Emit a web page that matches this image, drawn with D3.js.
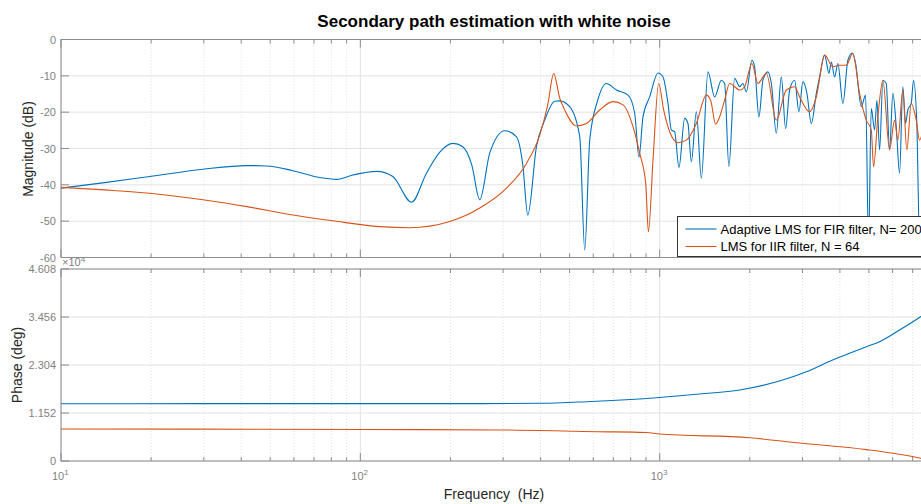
<!DOCTYPE html>
<html>
<head>
<meta charset="utf-8">
<script src="https://cdn.jsdelivr.net/npm/d3@7"></script>
<style>
body { margin:0; background:#fff; }
svg { display:block; font-family:"Liberation Sans", Arial, Helvetica, sans-serif; }
.ticklabel { fill:#7f7f7f; font-size:11px; }
</style>
</head>
<body>
<svg id="chart" width="921" height="504"></svg>
<script>
"use strict";

// ---- magnitude, adaptive LMS FIR (Hz / dB)
var firFreq = [10, 14, 19.8, 29.8, 41.8, 48.7, 59.5, 73.2, 83.5, 94.4,
	113.5, 128.4, 148.3, 166.3, 184.3, 203.7, 219.9, 235.6, 250.6, 270.7,
	303.8, 332.4, 348.9, 362.6, 387.6, 413, 446, 463.5, 500.6, 540.8,
	561.9, 583.9, 621, 663.7, 717.2, 784.2, 825.3, 852.9, 879.6, 925.7,
	987, 1026, 1066, 1094, 1122, 1160, 1212, 1243, 1276, 1326,
	1378, 1450, 1526, 1607, 1648, 1703, 1780, 1850, 1897, 1948,
	2033, 2076, 2146, 2213, 2300, 2361, 2453, 2549, 2635, 2717,
	2824, 2919, 3010, 3104, 3211, 3337, 3423, 3557, 3677, 3745,
	3841, 3939, 4093, 4254, 4400, 4513, 4716, 4874, 4988, 5092,
	5224, 5318, 5429, 5568, 5715, 5861, 6012, 6171, 6329, 6492,
	6628, 6745, 6924, 7048, 7229, 7381, 7670];
var firMag = [-40.9, -39.4, -37.7, -35.7, -34.7, -34.8, -36.1, -38.0, -38.5, -37.3,
	-36.3, -37.7, -44.8, -36.8, -31.0, -28.6, -29.5, -34.5, -44.1, -31.2,
	-25.1, -26.8, -34.5, -48.3, -29.5, -22.2, -17.0, -16.9, -18.5, -26.8,
	-57.9, -27.7, -16.7, -12.1, -13.9, -15.3, -20.3, -32.4, -21.3, -15.8,
	-9.2, -10.3, -17.6, -24.9, -25.4, -35.2, -21.7, -23.1, -33.6, -19.9,
	-38.2, -8.9, -15.8, -11.2, -12.1, -35.0, -10.7, -13.0, -12.1, -14.4,
	-5.7, -7.5, -21.3, -11.2, -8.9, -12.1, -25.8, -10.3, -24.5, -13.9,
	-11.2, -19.9, -11.6, -14.8, -23.1, -14.8, -10.3, -4.3, -9.3, -6.2,
	-10.3, -6.6, -17.6, -5.7, -3.7, -6.6, -18.5, -15.3, -56.5, -19.0,
	-24.9, -16.7, -30.4, -11.2, -12.1, -30.4, -14.8, -24.0, -36.8, -13.0,
	-23.1, -19.4, -17.6, -11.2, -23.1, -55.1, -22.2];

// ---- magnitude, LMS IIR (Hz / dB)
var iirFreq = [10, 14, 19.8, 29.8, 41.8, 59.5, 80.9, 116.2, 146.3, 199.1,
	250.6, 307.8, 358.9, 397.5, 422.7, 442.6, 463.5, 481.7, 527.2, 569.3,
	630.6, 698.6, 754.3, 814.6, 857.6, 898.2, 917, 950, 992.4, 1031,
	1080, 1151, 1228, 1326, 1432, 1480, 1538, 1586, 1648, 1713,
	1850, 1922, 2033, 2129, 2272, 2453, 2649, 2824, 2934, 3170,
	3337, 3557, 3790, 3990, 4202, 4420, 4654, 4900, 5092, 5183,
	5357, 5568, 5861, 6090, 6247, 6492, 6693, 6924, 7196, 7381,
	7670];
var iirMag = [-40.7, -41.4, -42.3, -44.1, -46.0, -48.3, -49.9, -51.5, -51.8, -50.1,
	-46.4, -40.9, -34.1, -26.3, -18.0, -9.4, -16.1, -19.4, -23.8, -23.1,
	-19.4, -17.1, -18.0, -24.0, -31.3, -39.6, -52.9, -33.2, -12.1, -19.4,
	-25.4, -28.4, -27.7, -23.1, -15.3, -16.7, -23.3, -21.3, -16.7, -12.1,
	-13.9, -13.0, -6.6, -12.1, -9.3, -22.2, -13.9, -13.0, -15.8, -19.9,
	-15.8, -4.3, -7.5, -7.1, -7.1, -3.8, -14.8, -22.2, -24.9, -35.0,
	-21.3, -11.2, -30.4, -22.2, -27.7, -13.9, -30.4, -17.6, -22.2, -27.7,
	-22.2];

// ---- phase (Hz / deg)
var firPhaseFreq = [10, 30, 100, 200, 400, 569, 1000, 1360, 1850, 2575, 3090, 3781, 4900, 5429, 6329, 7439, 8000];
var firPhase = [13750, 13760, 13780, 13760, 13850, 14230, 15240, 16080, 17040, 19440, 21430, 24240, 27430, 28630, 31440, 34630, 36200];
var iirPhaseFreq = [10, 100, 300, 620, 898, 1000, 2000, 2934, 4900, 7439, 8000];
var iirPhase = [7680, 7560, 7440, 7030, 6840, 6480, 5570, 4320, 2740, 650, 120];

// ---- ticks
var majorFreqTicks = [10, 100, 1000];
var minorFreqTicks = [20, 30, 40, 50, 60, 70, 80, 90, 200, 300, 400, 500, 600, 700, 800, 900,
	2000, 3000, 4000, 5000, 6000, 7000, 8000];
var freqTickExp = ['1', '2', '3'];
var magTicks = [0, -10, -20, -30, -40, -50, -60];
var phaseTicks = [0, 11520, 23040, 34560, 46080];
var phaseTickLabels = ['0', '1.152', '2.304', '3.456', '4.608'];
var legendLabels = ['Adaptive LMS for FIR filter, N= 200', 'LMS for IIR filter, N = 64'];
var colors = ['#0072bd', '#d95319'];

var svg = d3.select('#chart');
var left = 61, right = 930;

var x = d3.scaleLog().domain([10, 8000]).range([left, right]);
var yMag = d3.scaleLinear().domain([-60, 0]).range([257.5, 39.5]);
var yPhase = d3.scaleLinear().domain([0, 46080]).range([461, 269]);

//*-*-*-*-*-*-*-*-*-*-*-*-*-*-*-*-*-*
// one axes box: grid, ticks, labels
//*-*-*-*-*-*-*-*-*-*-*-*-*-*-*-*-*-*
function draw_axes(id, y, yTicks, yLabels)
{
	var top = y.range()[1], bottom = y.range()[0];
	var g = svg.append('g').attr('class', id);

	g.append('rect').attr('x', left).attr('y', top)
		.attr('width', right - left).attr('height', bottom - top).attr('fill', '#fff');

	// minor grid (dotted)
	g.selectAll('.minorgrid').data(minorFreqTicks).enter().append('line')
		.attr('x1', function(d){ return x(d); }).attr('x2', function(d){ return x(d); })
		.attr('y1', top).attr('y2', bottom)
		.attr('stroke', '#d8d8d8').attr('stroke-width', 0.8).attr('stroke-dasharray', '1,2');
	// major grid
	g.selectAll('.vgrid').data(majorFreqTicks).enter().append('line')
		.attr('x1', function(d){ return x(d); }).attr('x2', function(d){ return x(d); })
		.attr('y1', top).attr('y2', bottom)
		.attr('stroke', '#e2e2e2').attr('stroke-width', 1);
	g.selectAll('.hgrid').data(yTicks).enter().append('line')
		.attr('x1', left).attr('x2', right)
		.attr('y1', function(d){ return y(d); }).attr('y2', function(d){ return y(d); })
		.attr('stroke', '#e2e2e2').attr('stroke-width', 1);

	var clipId = 'clip-' + id;
	g.append('clipPath').attr('id', clipId).append('rect')
		.attr('x', left).attr('y', top).attr('width', right - left).attr('height', bottom - top);
	var plot = g.append('g').attr('clip-path', 'url(#' + clipId + ')');

	// box and ticks
	var axisCol = '#8c8c8c';
	g.append('rect').attr('x', left).attr('y', top)
		.attr('width', right - left).attr('height', bottom - top)
		.attr('fill', 'none').attr('stroke', axisCol).attr('stroke-width', 1);
	var allTicks = majorFreqTicks.concat(minorFreqTicks);
	g.selectAll('.xtickb').data(allTicks).enter().append('line')
		.attr('x1', function(d){ return x(d); }).attr('x2', function(d){ return x(d); })
		.attr('y1', bottom).attr('y2', function(d){ return bottom - (majorFreqTicks.indexOf(d) >= 0 ? 8 : 4); })
		.attr('stroke', axisCol);
	g.selectAll('.xtickt').data(allTicks).enter().append('line')
		.attr('x1', function(d){ return x(d); }).attr('x2', function(d){ return x(d); })
		.attr('y1', top).attr('y2', function(d){ return top + (majorFreqTicks.indexOf(d) >= 0 ? 8 : 4); })
		.attr('stroke', axisCol);
	g.selectAll('.ytick').data(yTicks).enter().append('line')
		.attr('x1', left).attr('x2', left + 8)
		.attr('y1', function(d){ return y(d); }).attr('y2', function(d){ return y(d); })
		.attr('stroke', axisCol);
	g.selectAll('.ylabel').data(yTicks).enter().append('text')
		.attr('class', 'ticklabel')
		.attr('x', left - 5)
		.attr('y', function(d){ return y(d) + 4; })
		.attr('text-anchor', 'end')
		.text(function(d, i){ return yLabels[i]; });
	return plot;
}

var magPlot = draw_axes('mag', yMag, magTicks, magTicks.map(String));
var phasePlot = draw_axes('phase', yPhase, phaseTicks, phaseTickLabels);

//*-*-*-*-*-*-*-*-*-*-*-*
// curves
//*-*-*-*-*-*-*-*-*-*-*-*
function pairs(fs, vs){ return fs.map(function(f, i){ return [f, vs[i]]; }); }

var magLine = d3.line().x(function(d){ return x(d[0]); }).y(function(d){ return yMag(d[1]); })
	.curve(d3.curveMonotoneX);
var phaseLine = d3.line().x(function(d){ return x(d[0]); }).y(function(d){ return yPhase(d[1]); })
	.curve(d3.curveMonotoneX);

[pairs(firFreq, firMag), pairs(iirFreq, iirMag)].forEach(function(d, i)
{
	magPlot.append('path').datum(d).attr('d', magLine)
		.attr('fill', 'none').attr('stroke', colors[i]).attr('stroke-width', 1.1);
});
[pairs(firPhaseFreq, firPhase), pairs(iirPhaseFreq, iirPhase)].forEach(function(d, i)
{
	phasePlot.append('path').datum(d).attr('d', phaseLine)
		.attr('fill', 'none').attr('stroke', colors[i]).attr('stroke-width', 1.1);
});

//*-*-*-*-*-*-*-*-*-*-*-*
// x tick labels 10^n
//*-*-*-*-*-*-*-*-*-*-*-*
var xl = svg.selectAll('.xlabel').data(majorFreqTicks).enter().append('text')
	.attr('class', 'ticklabel')
	.attr('x', function(d){ return x(d) - 9; })
	.attr('y', 480);
xl.append('tspan').text('10');
xl.append('tspan').attr('dy', -5).style('font-size', '8px')
	.text(function(d, i){ return freqTickExp[i]; });

// exponent marker of the phase axis
var ex = svg.append('text').attr('class', 'ticklabel').attr('x', 62).attr('y', 266).style('font-size', '11px');
ex.append('tspan').text('\u00d710');
ex.append('tspan').attr('dy', -4).style('font-size', '8px').text('4');

//*-*-*-*-*-*-*-*-*-*-*-*
// titles
//*-*-*-*-*-*-*-*-*-*-*-*
svg.append('text').attr('x', 494).attr('y', 27).attr('text-anchor', 'middle')
	.style('font-size', '17px').style('font-weight', 'bold').attr('fill', '#000')
	.text('Secondary path estimation with white noise');
svg.append('text').attr('transform', 'translate(33,149) rotate(-90)').attr('text-anchor', 'middle')
	.style('font-size', '14px').attr('fill', '#262626').text('Magnitude (dB)');
svg.append('text').attr('transform', 'translate(22,365) rotate(-90)').attr('text-anchor', 'middle')
	.style('font-size', '14px').attr('fill', '#262626').text('Phase (deg)');
svg.append('text').attr('x', 494).attr('y', 499).attr('text-anchor', 'middle')
	.style('font-size', '14px').attr('fill', '#262626').style('white-space', 'pre').text('Frequency  (Hz)');

//*-*-*-*-*-*-*-*-*-*-*-*
// legend
//*-*-*-*-*-*-*-*-*-*-*-*
var legend = svg.append('g').attr('class', 'legend').attr('transform', 'translate(677.5,216.5)');
legend.append('rect').attr('width', 280).attr('height', 40)
	.attr('fill', '#fff').attr('stroke', '#333').attr('stroke-width', 1);
legendLabels.forEach(function(t, i)
{
	var ly = 12.5 + i * 17.5;
	legend.append('line').attr('x1', 8).attr('x2', 39).attr('y1', ly).attr('y2', ly)
		.attr('stroke', colors[i]).attr('stroke-width', 1.1);
	legend.append('text').attr('x', 43).attr('y', ly + 4.5)
		.style('font-size', '13px').attr('fill', '#000').text(t);
});
</script>
</body>
</html>
